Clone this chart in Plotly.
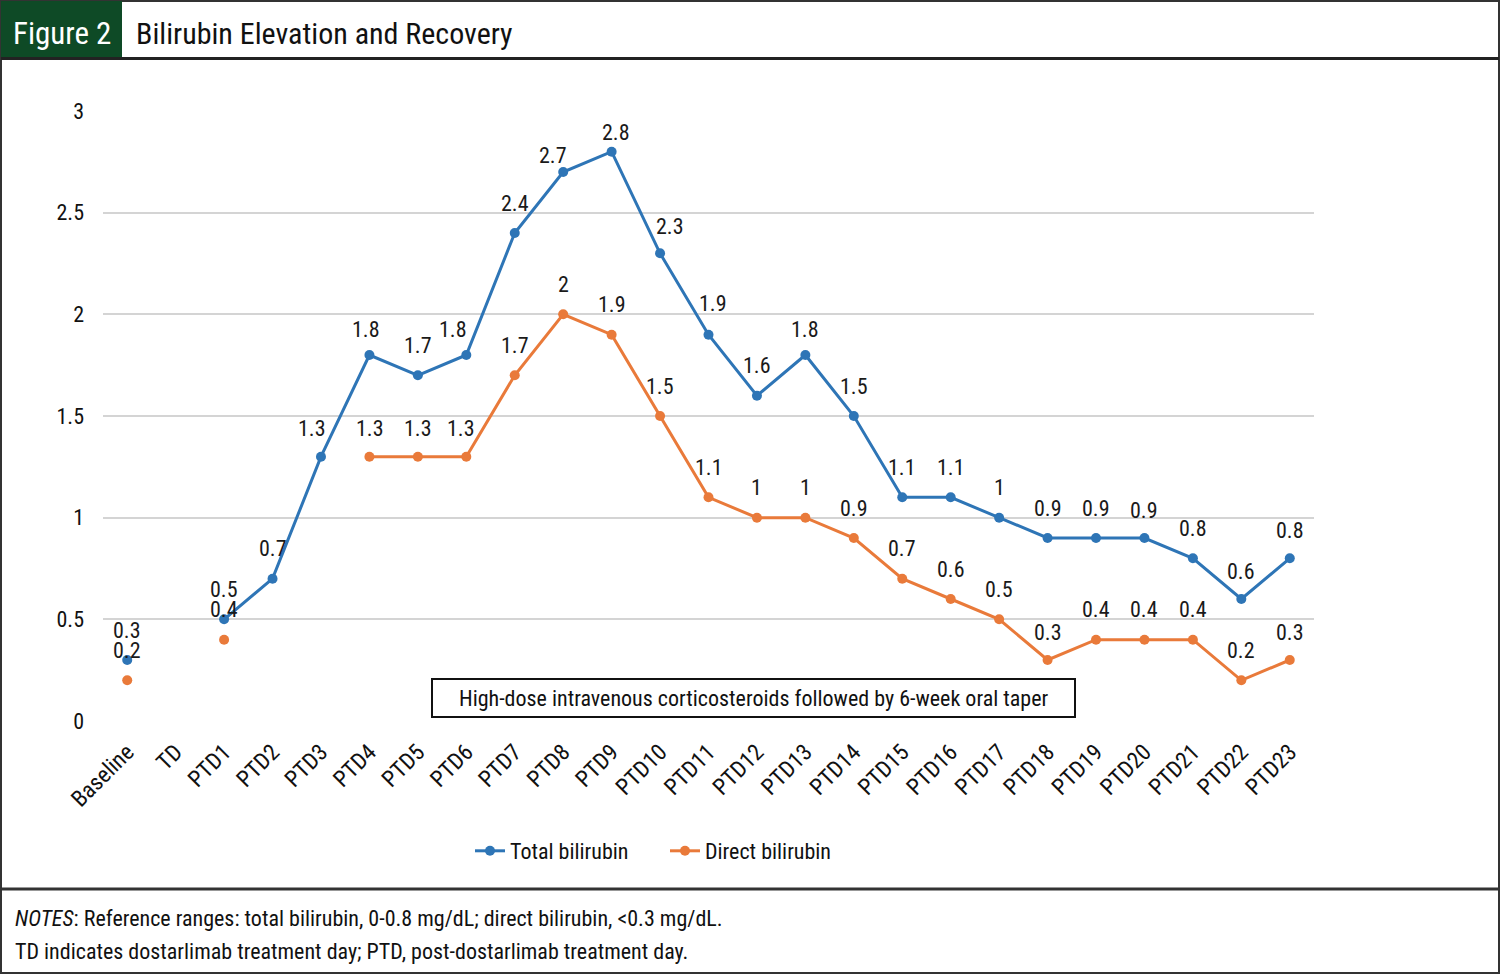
import plotly.graph_objects as go

categories = ["Baseline", "TD"] + [f"PTD{i}" for i in range(1, 24)]
total_bilirubin = [0.3, None, 0.5, 0.7, 1.3, 1.8, 1.7, 1.8, 2.4, 2.7, 2.8, 2.3, 1.9, 1.6, 1.8, 1.5,
                   1.1, 1.1, 1.0, 0.9, 0.9, 0.9, 0.8, 0.6, 0.8]
direct_bilirubin = [0.2, None, 0.4, None, None, 1.3, 1.3, 1.3, 1.7, 2.0, 1.9, 1.5, 1.1, 1.0, 1.0, 0.9,
                    0.7, 0.6, 0.5, 0.3, 0.4, 0.4, 0.4, 0.2, 0.3]
y_ticks = [0, 0.5, 1, 1.5, 2, 2.5, 3]
y_tick_labels = ["0", "0.5", "1", "1.5", "2", "2.5", "3"]

W, H = 1500, 974
L, R, T, B = 103, 186, 111, 253
PW, PH = W - L - R, H - T - B

FONT = "Liberation Sans Narrow, Roboto Condensed, DejaVu Sans Condensed, Arial Narrow, sans-serif"
BLUE = "#2E75B6"
ORANGE = "#E97A3A"
GREEN = "#0E4A26"

# label offsets in pixels (style only): (dx, dy) per category index
total_label_offsets = {4: (-9, 28), 5: (-3, 26), 7: (-13, 26), 9: (-10, 17), 10: (4, 19), 11: (10, 27),
                       12: (4, 31), 14: (0, 26), 21: (0, 28), 23: (0, 28), 24: (0, 28)}
direct_label_offsets = {7: (-5, 28), 5: (1, 28), 6: (0, 28), 19: (0, 28), 24: (0, 28)}
DEFAULT_DY = 30


def px(x):
    return (x - L) / PW


def py(y):
    return (H - B - y) / PH


def fmt(v):
    return f"{v:g}"


fig = go.Figure()
fig.add_trace(go.Scatter(
    x=categories, y=total_bilirubin, name="Total bilirubin", mode="lines+markers",
    line=dict(color=BLUE, width=3), marker=dict(color=BLUE, size=10),
    connectgaps=False, cliponaxis=False,
))
fig.add_trace(go.Scatter(
    x=categories, y=direct_bilirubin, name="Direct bilirubin", mode="lines+markers",
    line=dict(color=ORANGE, width=3), marker=dict(color=ORANGE, size=10),
    connectgaps=False, cliponaxis=False,
))

annotations = []
for series, offs in ((total_bilirubin, total_label_offsets), (direct_bilirubin, direct_label_offsets)):
    for i, v in enumerate(series):
        if v is None:
            continue
        dx, dy = offs.get(i, (0, DEFAULT_DY))
        annotations.append(dict(x=categories[i], y=v, xref="x", yref="y", text=fmt(v), showarrow=False,
                                xshift=dx, yshift=dy, xanchor="center", yanchor="middle",
                                font=dict(size=22, color="#1a1a1a", family=FONT)))

shapes = [
    dict(type="rect", xref="paper", yref="paper", x0=px(1), x1=px(1499), y0=py(1), y1=py(973),
         line=dict(color="#333333", width=2), layer="below"),
    dict(type="rect", xref="paper", yref="paper", x0=px(1), x1=px(122), y0=py(1), y1=py(58),
         fillcolor=GREEN, line=dict(width=0), layer="below"),
    dict(type="line", xref="paper", yref="paper", x0=px(1), x1=px(1499), y0=py(58.5), y1=py(58.5),
         line=dict(color="#222222", width=3)),
    dict(type="line", xref="paper", yref="paper", x0=px(1), x1=px(1499), y0=py(889), y1=py(889),
         line=dict(color="#333333", width=3)),
    dict(type="rect", xref="paper", yref="paper", x0=px(432), x1=px(1075), y0=py(679), y1=py(717),
         fillcolor="white", line=dict(color="#111111", width=2)),
]

annotations += [
    dict(text="Figure 2", xref="paper", yref="paper", x=px(62), y=py(33), showarrow=False,
         xanchor="center", yanchor="middle", font=dict(size=31, color="white", family=FONT)),
    dict(text="Bilirubin Elevation and Recovery", xref="paper", yref="paper", x=px(134), y=py(33),
         showarrow=False, xanchor="left", yanchor="middle", font=dict(size=30, color="#111111", family=FONT)),
    dict(text="High-dose intravenous corticosteroids followed by 6-week oral taper", xref="paper", yref="paper",
         x=px(753.5), y=py(698), showarrow=False, xanchor="center", yanchor="middle",
         font=dict(size=22, color="#111111", family=FONT)),
    dict(text="<i>NOTES</i>: Reference ranges: total bilirubin, 0-0.8 mg/dL; direct bilirubin, <0.3 mg/dL.",
         xref="paper", yref="paper", x=px(13), y=py(918), showarrow=False, xanchor="left", yanchor="middle",
         font=dict(size=22, color="#111111", family=FONT)),
    dict(text="TD indicates dostarlimab treatment day; PTD, post-dostarlimab treatment day.",
         xref="paper", yref="paper", x=px(13), y=py(951), showarrow=False, xanchor="left", yanchor="middle",
         font=dict(size=22, color="#111111", family=FONT)),
]

fig.update_layout(
    width=W, height=H,
    margin=dict(l=L, r=R, t=T, b=B, pad=0),
    paper_bgcolor="white", plot_bgcolor="white",
    font=dict(family=FONT, size=22, color="#111111"),
    shapes=shapes, annotations=annotations,
    showlegend=True,
    legend=dict(orientation="h", x=px(470), y=py(851), xanchor="left", yanchor="middle",
                font=dict(size=22, family=FONT, color="#111111"), itemwidth=30,
                entrywidth=150, entrywidthmode="pixels",
                bgcolor="rgba(0,0,0,0)"),
    xaxis=dict(type="category", categoryorder="array", categoryarray=categories,
               range=[-0.5, len(categories) - 0.5], tickangle=-45, showgrid=False,
               showline=False, zeroline=False, ticks="", ticklabelstandoff=12,
               tickfont=dict(size=23, family=FONT, color="#111111")),
    yaxis=dict(range=[0, 3], tickvals=y_ticks, ticktext=y_tick_labels, showgrid=True,
               gridcolor="#D4D4D4", gridwidth=2, zeroline=False, showline=False, ticks="",
               ticklabelstandoff=18, tickfont=dict(size=22, family=FONT, color="#111111")),
)

fig.write_html("out.html", config={"displayModeBar": False},
               post_script="document.body.style.margin='0';document.body.style.overflow='hidden';")
